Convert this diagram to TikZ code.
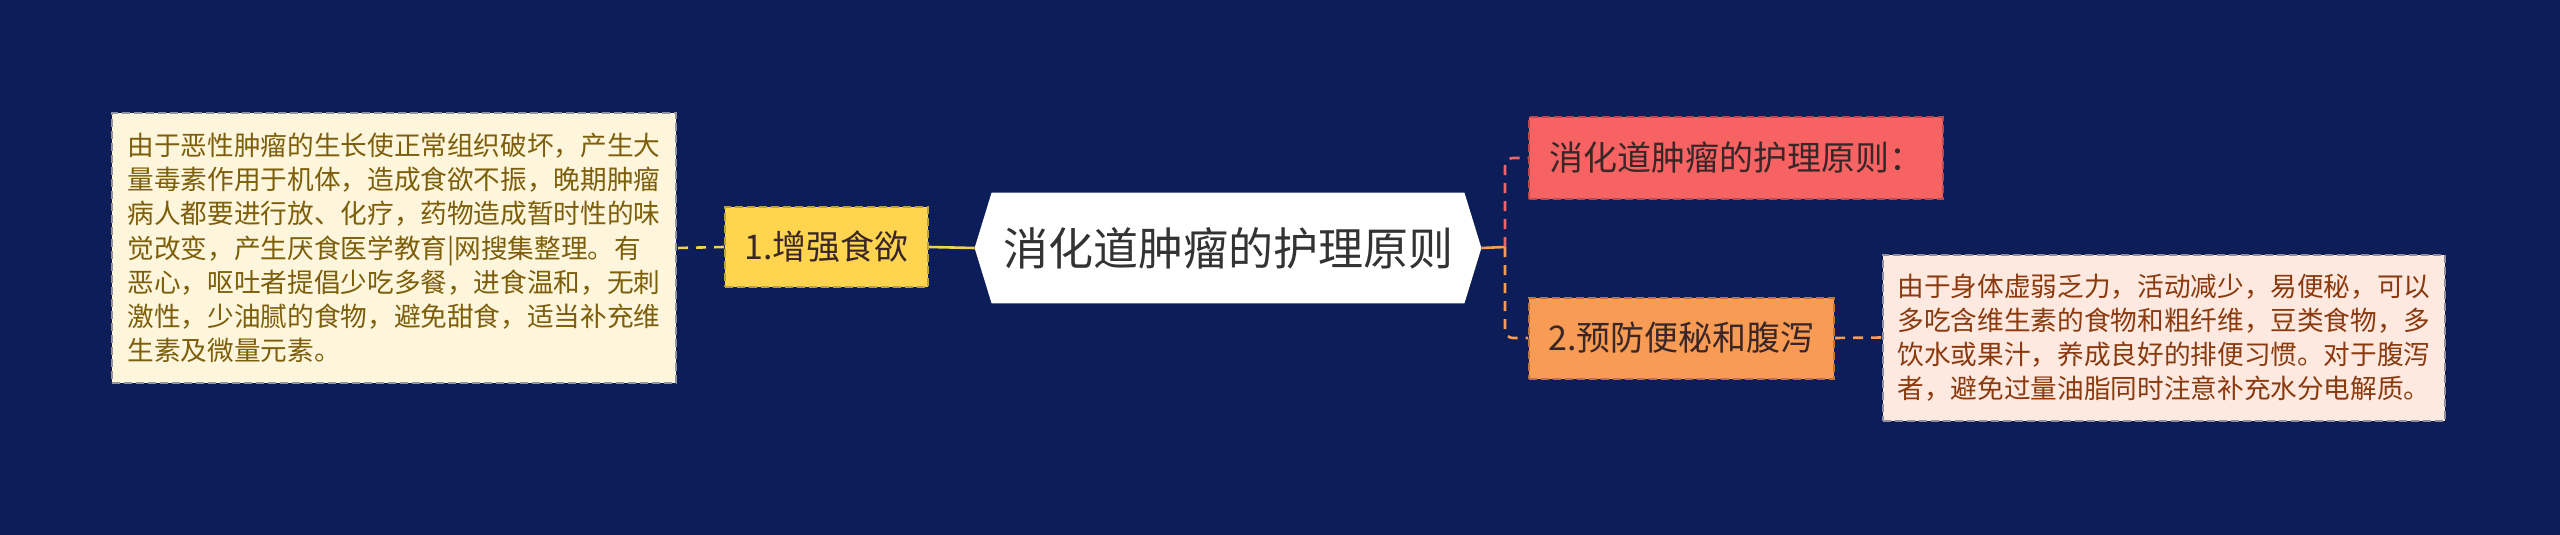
\documentclass[tikz,border=0pt]{standalone}
\usepackage{fontspec}
\newfontfamily\cjk{Noto Sans CJK SC}
\usetikzlibrary{backgrounds}
\definecolor{bg}{HTML}{0D1D57}
\definecolor{ctext}{HTML}{333333}
\definecolor{yel}{HTML}{FFD54F}
\definecolor{yelline}{HTML}{F5CF4E}
\definecolor{cream}{HTML}{FEF6DC}
\definecolor{creamtext}{HTML}{7D5F0B}
\definecolor{redbox}{HTML}{F76262}
\definecolor{redline}{HTML}{F0646C}
\definecolor{orangebox}{HTML}{F89B54}
\definecolor{peach}{HTML}{FDE9DF}
\definecolor{peachtext}{HTML}{8A3A0E}
\definecolor{darktext}{HTML}{3A2626}
\begin{document}
\begin{tikzpicture}[x=0.5pt,y=-0.5pt,font=\cjk,
  tbox/.style={rectangle,inner sep=0pt,line width=1pt,dash pattern=on 4pt off 2pt},
  topic/.style={tbox,font=\cjk\fontsize{17pt}{20pt}\selectfont,minimum height=40.5pt},
  note/.style={tbox,align=left,font=\cjk\fontsize{13.33pt}{17.1pt}\selectfont},
  link/.style={line width=1.3pt},
  dlink/.style={line width=1.3pt,dash pattern=on 5pt off 4pt}]
\begin{scope}[on background layer]
  \fill[bg] (0,0) rectangle (2560,535);
\end{scope}
\useasboundingbox (0,0) rectangle (2560,535);

% central topic
\node[inner sep=0pt,minimum width=253pt,minimum height=55pt,text=ctext,
      font=\cjk\fontsize{22.5pt}{26pt}\selectfont] (c) at (1228,248) {消化道肿瘤的护理原则};
\begin{scope}[on background layer]
  \fill[white] (c.west) -- ([xshift=8.5pt]c.north west) -- ([xshift=-8.5pt]c.north east)
    -- (c.east) -- ([xshift=-8.5pt]c.south east) -- ([xshift=8.5pt]c.south west) -- cycle;
\end{scope}

% left branch
\node[topic,fill=yel,draw=yel!75!black,text=darktext,minimum width=101.5pt,minimum height=40pt] (y) at (826.5,247) {1.增强食欲};
\node[note,fill=cream,draw=cream!55!bg,text=creamtext,minimum width=282pt,minimum height=135pt] (lt) at (394,248)
 {由于恶性肿瘤的生长使正常组织破坏，产生大\\
  量毒素作用于机体，造成食欲不振，晚期肿瘤\\
  病人都要进行放、化疗，药物造成暂时性的味\\
  觉改变，产生厌食医学教育|网搜集整理。有\\
  恶心，呕吐者提倡少吃多餐，进食温和，无刺\\
  激性，少油腻的食物，避免甜食，适当补充维\\
  生素及微量元素。};

% right branch
\node[topic,fill=redbox,draw=redbox!75!black,text=darktext,minimum width=207pt] (r) at (1736,158) {消化道肿瘤的护理原则：};
\node[topic,fill=orangebox,draw=orangebox!75!black,text=darktext,minimum width=152.5pt] (o) at (1681.5,338) {2.预防便秘和腹泻};
\node[note,fill=peach,draw=peach!55!bg,text=peachtext,minimum width=281pt,minimum height=83pt] (rt) at (2164,337.5)
 {由于身体虚弱乏力，活动减少，易便秘，可以\\
  多吃含维生素的食物和粗纤维，豆类食物，多\\
  饮水或果汁，养成良好的排便习惯。对于腹泻\\
  者，避免过量油脂同时注意补充水分电解质。};

% connectors
\coordinate (j) at (1505,247);
\draw[link,yelline] (c.west) -- (y.east);
\draw[dlink,yelline] (y.west) -- (lt.east);
\draw[link,orangebox] (c.east) -- (j);
\draw[dlink,redline,rounded corners=4pt] (j) |- (r.west);
\draw[dlink,orangebox,rounded corners=4pt] (j) |- (o.west);
\draw[dlink,orangebox] (o.east) -- (rt.west);
\end{tikzpicture}
\end{document}
